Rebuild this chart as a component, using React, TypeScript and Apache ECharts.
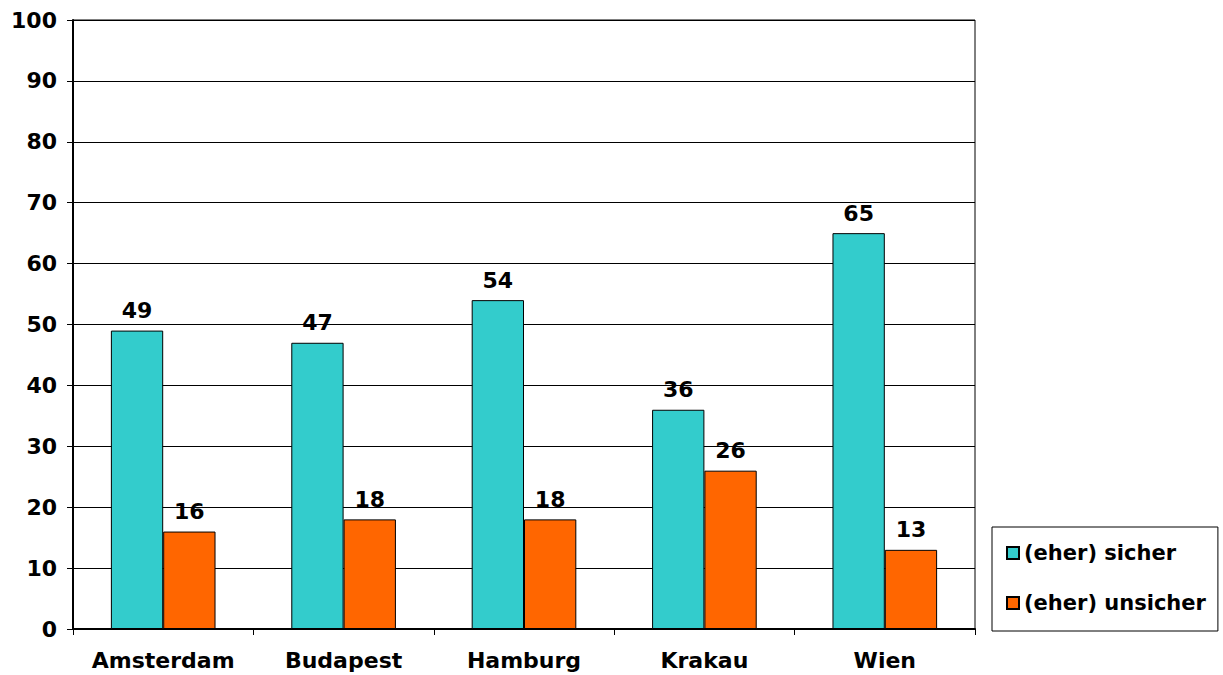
import React, { useEffect, useRef } from "react";
import * as echarts from "echarts";

const categories = ["Amsterdam", "Budapest", "Hamburg", "Krakau", "Wien"];
const sicher = [49, 47, 54, 36, 65];
const unsicher = [16, 18, 18, 26, 13];
const seriesNames = ["(eher) sicher", "(eher) unsicher"];

const FONT = "'DejaVu Sans', Verdana, sans-serif";

export default function App() {
  const ref = useRef<HTMLDivElement>(null);
  useEffect(() => {
    if (!ref.current) return;
    const chart = echarts.init(ref.current, null, { renderer: "svg" });
    const label = {
      show: true,
      position: "top" as const,
      distance: 9,
      color: "#000",
      fontWeight: "bold" as const,
      fontSize: 22,
      fontFamily: FONT,
    };
    chart.setOption({
      animation: false,
      backgroundColor: "#fff",
      textStyle: { fontFamily: FONT },
      grid: {
        left: 73,
        right: 248,
        top: 20,
        bottom: 46,
        show: true,
        borderColor: "#000",
        borderWidth: 1,
      },
      legend: {
        orient: "vertical",
        left: 992,
        top: 527,
        padding: [15, 12, 17, 14],
        itemGap: 28,
        itemWidth: 12,
        itemHeight: 12,
        icon: "rect",
        borderColor: "#000",
        borderWidth: 1,
        textStyle: {
          fontSize: 21,
          fontWeight: "bold",
          color: "#000",
          fontFamily: FONT,
          lineHeight: 22,
        },
        data: seriesNames,
      },
      xAxis: {
        type: "category",
        data: categories,
        axisLine: { lineStyle: { color: "#000", width: 2 } },
        axisTick: { show: true, length: 6, lineStyle: { color: "#000" } },
        axisLabel: {
          color: "#000",
          fontWeight: "bold",
          fontSize: 22,
          fontFamily: FONT,
          margin: 20,
          interval: 0,
        },
      },
      yAxis: {
        type: "value",
        min: 0,
        max: 100,
        interval: 10,
        axisLine: { show: true, lineStyle: { color: "#000", width: 2 } },
        axisTick: { show: true, length: 6, lineStyle: { color: "#000" } },
        splitLine: { lineStyle: { color: "#000", width: 1 } },
        axisLabel: {
          color: "#000",
          fontWeight: "bold",
          fontSize: 22,
          fontFamily: FONT,
          margin: 16,
        },
      },
      series: [
        {
          name: seriesNames[0],
          type: "bar",
          data: sicher,
          barWidth: "29%",
          barGap: "0%",
          itemStyle: { color: "#33CCCC", borderColor: "#000", borderWidth: 1 },
          label,
        },
        {
          name: seriesNames[1],
          type: "bar",
          data: unsicher,
          barWidth: "29%",
          barGap: "0%",
          itemStyle: { color: "#FF6600", borderColor: "#000", borderWidth: 1 },
          label,
        },
      ],
    });
    return () => chart.dispose();
  }, []);
  return (
    <div
      ref={ref}
      style={{ position: "fixed", left: 0, top: 0, width: 1223, height: 675 }}
    />
  );
}
